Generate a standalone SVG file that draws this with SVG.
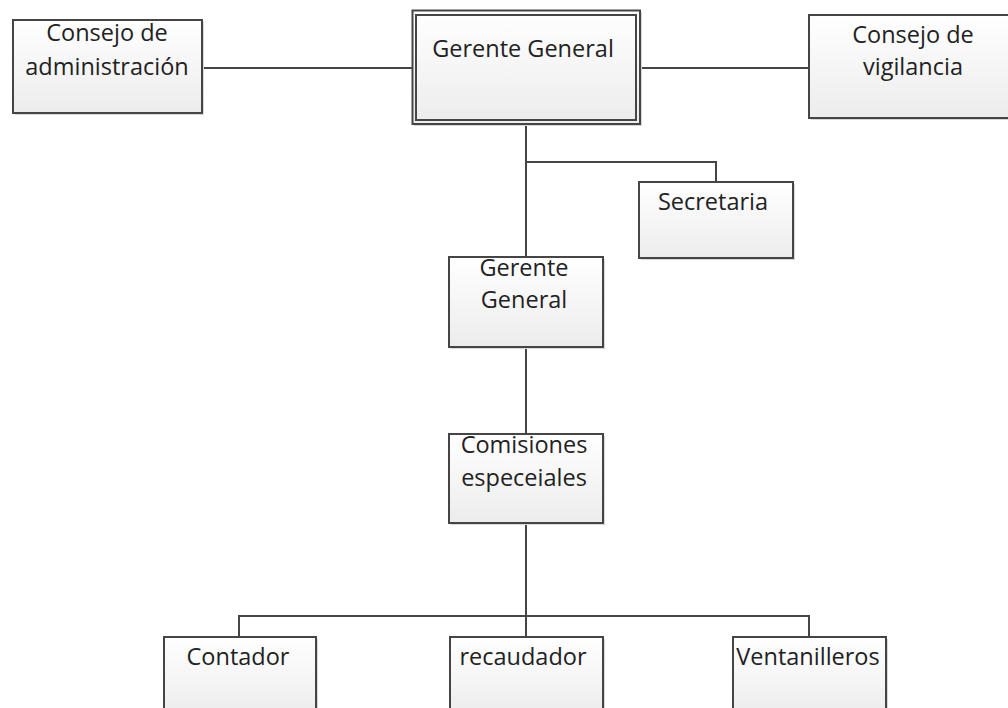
<svg xmlns="http://www.w3.org/2000/svg" width="1008" height="708" viewBox="0 0 1008 708">
<defs>
<linearGradient id="g" x1="0" y1="0" x2="0" y2="1">
<stop offset="0" stop-color="#ffffff"/>
<stop offset="1" stop-color="#ececec"/>
</linearGradient>
<style>
.box{fill:url(#g);stroke:#454545;stroke-width:2}
.sh{fill:#d8d8d8}
.t{font-family:"Open Sans","DejaVu Sans",sans-serif;font-size:23.5px;fill:#222;text-anchor:middle}
.c{fill:none;stroke:#454545;stroke-width:2}
</style>
</defs>
<rect width="1008" height="708" fill="#ffffff"/>
<g id="connectors">
<path class="c" d="M202,68H413"/>
<path class="c" d="M640,68H809"/>
<path class="c" d="M526,124V257"/>
<path class="c" d="M526,162H716V182"/>
<path class="c" d="M526,347V434"/>
<path class="c" d="M526,523V637"/>
<path class="c" d="M239,637V616H809V637"/>
</g>
<g id="n-admin">
<rect class="sh" x="15" y="22" width="189" height="93"/>
<rect class="box" x="13" y="20" width="189" height="93"/>
<text class="t" x="107" y="41">Consejo de</text>
<text class="t" x="107" y="75">administración</text>
</g>
<g id="n-gerente-top">
<rect class="sh" x="414" y="12" width="228" height="114"/>
<rect class="box" x="412.5" y="10.5" width="227.5" height="113.5"/>
<rect x="416" y="15" width="220" height="105" fill="none" stroke="#454545" stroke-width="2"/>
<text class="t" x="523" y="57">Gerente General</text>
</g>
<g id="n-vigilancia">
<rect class="sh" x="811" y="17" width="210" height="103"/>
<rect class="box" x="809" y="15" width="210" height="103"/>
<text class="t" x="913" y="43">Consejo de</text>
<text class="t" x="913" y="75">vigilancia</text>
</g>
<g id="n-secretaria">
<rect class="sh" x="641" y="184" width="154" height="76"/>
<rect class="box" x="639" y="182" width="154" height="76"/>
<text class="t" x="713" y="210">Secretaria</text>
</g>
<g id="n-gerente-mid">
<rect class="sh" x="451" y="259" width="154" height="90"/>
<rect class="box" x="449" y="257" width="154" height="90"/>
<text class="t" x="524" y="276">Gerente</text>
<text class="t" x="524" y="308">General</text>
</g>
<g id="n-comisiones">
<rect class="sh" x="451" y="436" width="154" height="89"/>
<rect class="box" x="449" y="434" width="154" height="89"/>
<text class="t" x="524" y="453">Comisiones</text>
<text class="t" x="524" y="486">especeiales</text>
</g>
<g id="n-contador">
<rect class="sh" x="166" y="639" width="152" height="80"/>
<rect class="box" x="164" y="637" width="152" height="80"/>
<text class="t" x="238" y="665">Contador</text>
</g>
<g id="n-recaudador">
<rect class="sh" x="452" y="639" width="153" height="80"/>
<rect class="box" x="450" y="637" width="153" height="80"/>
<text class="t" x="523" y="665">recaudador</text>
</g>
<g id="n-ventanilleros">
<rect class="sh" x="735" y="639" width="153" height="80"/>
<rect class="box" x="733" y="637" width="153" height="80"/>
<text class="t" x="808" y="665">Ventanilleros</text>
</g>
</svg>
